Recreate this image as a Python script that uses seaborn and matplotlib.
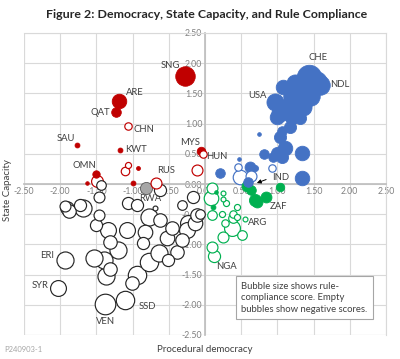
import numpy as np
import pandas as pd
import matplotlib
matplotlib.use("Agg")
import matplotlib.pyplot as plt
import seaborn as sns

# ---- data ----
# procedural democracy (x), state capacity (y), rule compliance (signed)
red_dem  = [-0.28, -1.19, -1.23, -1.06, -1.77, -1.17, -1.51, -1.49, -1.63, -1.06, -1.10, -0.92, -1.00, -0.68, -0.11, -0.05, -0.03]
red_cap  = [1.78, 1.38, 1.19, 0.955, 0.65, 0.57, 0.165, 0.05, 0.01, 0.31, 0.22, 0.26, 0.02, 0.02, 0.23, 0.55, 0.50]
red_comp = [1.5, 1.05, 0.6, -0.4, 0.17, 0.17, 0.4, -0.8, 0.05, -0.28, -0.5, 0.08, 0.17, -0.72, -0.72, 0.5, -0.4]

blue_dem  = [1.43, 1.54, 1.59, 1.34, 1.24, 1.08, 1.22, 1.45, 1.36, 0.97, 1.13, 1.04, 0.99, 1.20, 1.31, 1.17, 1.06, 1.04, 0.74,
             1.10, 0.99, 0.94, 1.06, 1.34, 0.81, 1.34, 0.92, 0.21, 0.47, 0.46, 0.48, 0.62, 0.63, 0.69, 0.60]
blue_cap  = [1.77, 1.69, 1.64, 1.61, 1.67, 1.61, 1.45, 1.45, 1.28, 1.36, 1.28, 1.17, 1.11, 1.11, 1.09, 0.95, 0.87, 0.77, 0.82,
             0.59, 0.51, 0.45, 0.45, 0.52, 0.50, 0.10, 0.26, 0.19, 0.41, 0.28, 0.12, 0.28, 0.13, 0.26, 0.03]
blue_comp = [1.95, 1.7, 1.5, 1.5, 1.28, 1.05, 1.5, 1.5, 1.28, 1.28, 1.28, 1.28, 1.05, 1.05, 0.83, 0.83, 0.6, 0.83, 0.06,
             1.05, 0.83, 0.6, 0.83, 1.05, 0.6, 1.05, -0.4, 0.6, 0.06, -0.4, -1.05, 0.72, -0.72, 0.28, 0.6]

green_dem  = [0.58, 1.04, 0.69, 0.84, 0.15, 0.11, 0.63, 0.72, 0.09, 0.08, 0.25, 0.25, 0.29, 0.39, 0.44, 0.55, 0.09, 0.37,
              0.25, 0.51, 0.39, 0.28, 0.09, 0.12, 0.44, 0.23]
green_cap  = [-0.04, -0.05, -0.26, -0.22, -0.13, -0.38, -0.10, -0.30, -0.07, -0.24, -0.15, -0.25, -0.32, -0.49, -0.38, -0.58,
              -0.51, -0.73, -0.87, -0.84, -0.57, -0.65, -1.04, -1.20, -0.54, -0.49]
green_comp = [0.72, 0.5, 0.83, 0.72, 0.06, 0.17, 0.6, 0.72, -0.72, -1.05, -0.17, -0.17, -0.28, -0.4, -0.28, -0.17, -0.6,
              -1.17, -0.72, -0.6, -0.6, -0.4, -0.72, -0.83, -0.28, -0.28]

black_dem  = [-1.43, -1.47, -1.91, -1.93, -1.88, -1.68, -1.73, -1.47, -1.50, -1.34, -1.31, -1.20, -1.08, -1.06, -0.94,
              -1.93, -1.54, -1.40, -1.31, -1.37, -2.03, -1.38, -1.10, -0.94, -1.01, -0.78, -0.85, -0.83, -0.78, -0.62,
              -0.53, -0.64, -0.51, -0.46, -0.39, -0.32, -0.25, -0.23, -0.32, -0.62, -0.69, -0.11, -0.16, -0.07, -0.14, -0.82]
black_cap  = [-0.01, -0.21, -0.40, -0.37, -0.45, -0.40, -0.35, -0.51, -0.68, -0.76, -0.96, -1.09, -0.76, -0.32, -0.35,
              -1.26, -1.23, -1.26, -1.40, -1.52, -1.72, -1.98, -1.92, -1.51, -1.64, -1.29, -0.98, -0.79, -0.54, -0.60,
              -0.90, -1.15, -1.26, -0.73, -1.12, -0.35, -0.76, -0.65, -0.93, -0.10, -0.40, -0.51, -0.21, -0.49, -0.65, -0.07]
black_comp = [-0.6, -0.72, -0.95, -0.72, -0.95, -1.28, -0.83, -0.72, -0.83, -1.17, -0.95, -1.28, -1.17, -0.83, -0.83,
              -1.28, -1.28, -1.28, -0.95, -1.28, -1.17, -1.6, -1.4, -1.4, -0.95, -1.4, -0.83, -1.05, -1.28, -0.95,
              -1.05, -1.28, -0.83, -0.95, -0.95, -0.6, -1.17, -1.17, -0.95, -0.83, -0.17, -0.95, -0.83, -0.6, -1.05, 0.83]

label_names = ["CHE", "NDL", "USA", "SNG", "ARE", "QAT", "CHN", "SAU", "KWT", "OMN", "RUS", "MYS", "HUN",
               "IND", "RWA", "ZAF", "ARG", "NGA", "ERI", "SYR", "VEN", "SSD"]
label_x = [1.56, 1.86, 0.73, -0.48, -0.97, -1.45, -0.84, -1.92, -0.95, -1.66, -0.54, -0.20, 0.17,
           1.05, -0.76, 1.02, 0.72, 0.30, -2.18, -2.28, -1.37, -0.80]
label_y = [2.09, 1.64, 1.47, 1.97, 1.52, 1.19, 0.90, 0.76, 0.57, 0.30, 0.22, 0.68, 0.45,
           0.10, -0.24, -0.38, -0.63, -1.36, -1.18, -1.68, -2.28, -2.03]

ticks = [-2.5, -2.0, -1.5, -1.0, -0.5, 0.0, 0.5, 1.0, 1.5, 2.0, 2.5]
tick_labels = ["-2.50", "-2.00", "-1.50", "-1.00", "-0.50", "0.00", "0.50", "1.00", "1.50", "2.00", "2.50"]

# ---- build table ----
frames = []
for name, d, c, r in [("red", red_dem, red_cap, red_comp), ("blue", blue_dem, blue_cap, blue_comp),
                      ("green", green_dem, green_cap, green_comp), ("black", black_dem, black_cap, black_comp)]:
    frames.append(pd.DataFrame({"dem": d, "cap": c, "comp": r, "group": name}))
df = pd.concat(frames, ignore_index=True)
df["diam_px"] = 3.0 + 11.0 * df["comp"].abs()
df["s"] = (df["diam_px"] * 0.72) ** 2
df["filled"] = df["comp"] > 0
df = df.sort_values("s", ascending=False).reset_index(drop=True)

colors = {"red": "#C00000", "blue": "#4472C4", "green": "#00B050", "black": "#262626"}
fill_colors = {"red": "#C00000", "blue": "#4472C4", "green": "#00B050", "black": "#A6A6A6"}

sns.set_theme(style="white")
plt.rcParams["font.family"] = ["Lato", "DejaVu Sans"]

fig = plt.figure(figsize=(4.0, 3.59), dpi=100)
ax = fig.add_axes([24 / 400, 1 - 335 / 359, 362 / 400, 302 / 359])

for i, row in df.iterrows():
    sub = df.iloc[[i]]
    g = row["group"]
    if row["filled"]:
        sns.scatterplot(data=sub, x="dem", y="cap", s=row["s"], color=fill_colors[g],
                        edgecolor=colors[g] if g != "black" else "#595959", linewidth=0.6,
                        legend=False, ax=ax, zorder=3)
    else:
        sns.scatterplot(data=sub, x="dem", y="cap", s=row["s"], color="white",
                        edgecolor=colors[g], linewidth=0.85, legend=False, ax=ax, zorder=3)

ax.set_xlim(-2.5, 2.5)
ax.set_ylim(-2.5, 2.5)
ax.set_xticks(ticks)
ax.set_yticks(ticks)
ax.set_xticklabels(tick_labels)
ax.set_yticklabels(tick_labels)
ax.grid(True, color="#D9D9D9", linewidth=0.8, zorder=0)
ax.set_axisbelow(True)
for sp in ["top", "right"]:
    ax.spines[sp].set_color("#D9D9D9")
    ax.spines[sp].set_linewidth(0.8)
ax.spines["left"].set_position(("data", 0))
ax.spines["bottom"].set_position(("data", 0))
ax.spines["left"].set_color("#BFBFBF")
ax.spines["bottom"].set_color("#BFBFBF")
ax.tick_params(axis="both", length=0, labelsize=6.3, labelcolor="#808080", pad=2)
ax.set_xlabel("")
ax.set_ylabel("")

ax.axvline(-2.5, color="#D9D9D9", linewidth=0.8, zorder=0)
ax.axhline(-2.5, color="#D9D9D9", linewidth=0.8, zorder=0)

for n, x, y in zip(label_names, label_x, label_y):
    ax.text(x, y, n, fontsize=6.8, color="#404040", ha="center", va="center", zorder=2 if n == "RWA" else 5)

ax.annotate("", xy=(0.68, 0.0), xytext=(0.88, 0.09),
            arrowprops=dict(arrowstyle="-|>", color="#000000", lw=0.7, mutation_scale=6), zorder=6)

ax.text(0.50, -1.88, "Bubble size shows rule-\ncompliance score. Empty\nbubbles show negative scores.",
        fontsize=6.8, color="#404040", ha="left", va="center", linespacing=1.35, zorder=6,
        bbox=dict(boxstyle="square,pad=0.6", facecolor="white", edgecolor="#A6A6A6", linewidth=0.8))

fig.text(207 / 400, 1 - 15 / 359, "Figure 2: Democracy, State Capacity, and Rule Compliance",
         fontsize=8.9, fontweight="bold", color="#262626", ha="center", va="center")
fig.text(205 / 400, 1 - 350 / 359, "Procedural democracy", fontsize=7, color="#404040", ha="center", va="center")
fig.text(8 / 400, 1 - 190 / 359, "State Capacity", fontsize=7, color="#404040", ha="center", va="center", rotation=90)
fig.text(4 / 400, 1 - 349 / 359, "P240903-1", fontsize=5.5, color="#A6A6A6", ha="left", va="center")

fig.savefig("out.png", dpi=100)
